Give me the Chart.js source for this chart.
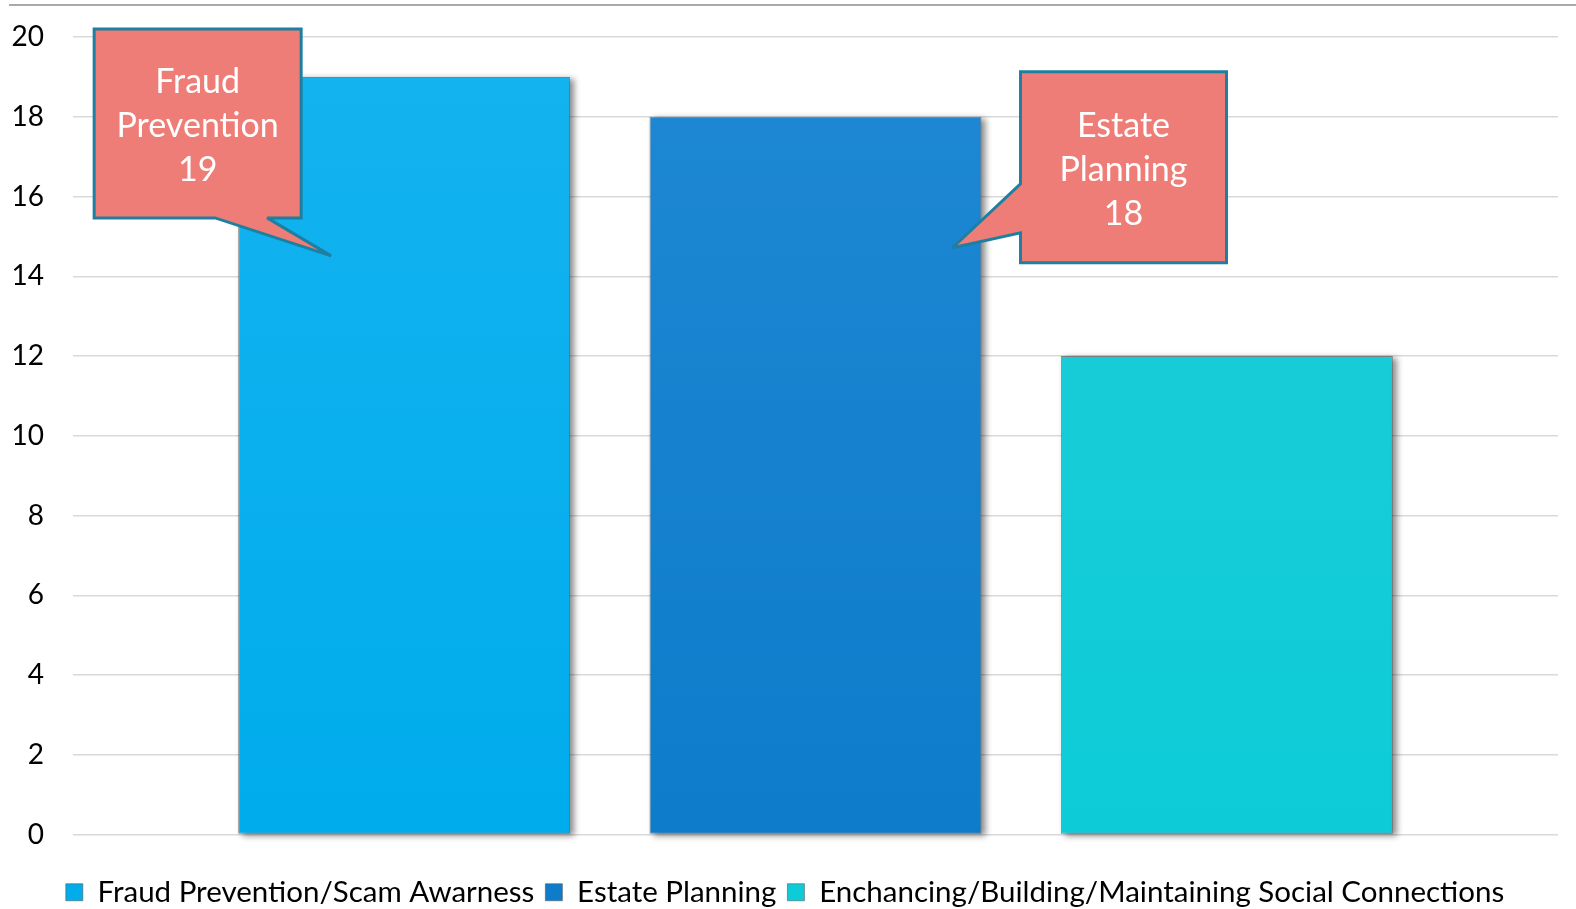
<!DOCTYPE html>
<html>
<head>
<meta charset="utf-8">
<title>Topics of interest</title>
<script src="https://cdn.jsdelivr.net/npm/chart.js@4.4.1/dist/chart.umd.min.js"></script>
<style>
    html, body { margin: 0; padding: 0; background: #ffffff; }
    #wrap { width: 1576px; height: 909px; }
</style>
</head>
<body>
<div id="wrap"><canvas id="chartTemas" width="1576" height="909"></canvas></div>
<script>
const temas = ["Fraud Prevention/Scam Awarness", "Estate Planning", "Enchancing/Building/Maintaining Social Connections"];
const votos = [19, 18, 12];
const coloresArriba = ["#14B3EF", "#1E88D3", "#1FCCD6"];
const coloresAbajo = ["#00ACEC", "#0E7CCB", "#0DCCD8"];
const yTicks = [0, 2, 4, 6, 8, 10, 12, 14, 16, 18, 20];

// globos de texto: índice de la barra, líneas de texto
const globos = [
    { idx: 0, lineas: ["Fraud", "Prevention", "19"] },
    { idx: 1, lineas: ["Estate", "Planning", "18"] }
];

const FUENTE = "Lato, 'Open Sans', sans-serif";

// degradado suave por barra
function degradado(ctx, i) {
    const area = ctx.chart.chartArea;
    if (!area) return coloresAbajo[i];
    const g = ctx.chart.ctx.createLinearGradient(0, area.top, 0, area.bottom);
    g.addColorStop(0, coloresArriba[i]);
    g.addColorStop(1, coloresAbajo[i]);
    return g;
}

// linea gris arriba del todo
const lineaSuperior = {
    id: "lineaSuperior",
    beforeDraw(chart) {
        const c = chart.ctx;
        c.save();
        c.strokeStyle = "#8c8c8c";
        c.lineWidth = 1.5;
        c.beginPath();
        c.moveTo(9, 5);
        c.lineTo(chart.width, 5);
        c.stroke();
        c.restore();
    }
};

// sombra difusa a la derecha de cada barra
const sombraBarras = {
    id: "sombraBarras",
    beforeDatasetsDraw(chart) {
        const c = chart.ctx;
        c.save();
        c.filter = "blur(3px)";
        c.fillStyle = "rgba(0,0,0,0.45)";
        chart.data.datasets.forEach((ds, i) => {
            const bar = chart.getDatasetMeta(i).data[0];
            const mitad = bar.width / 2;
            c.fillRect(bar.x - mitad + 4, bar.y + 2, bar.width, bar.base - bar.y);
        });
        c.restore();
    }
};

// dibuja los globos con su pico apuntando a la barra
const globosTexto = {
    id: "globosTexto",
    afterDatasetsDraw(chart) {
        const c = chart.ctx;
        globos.forEach(g => {
            const bar = chart.getDatasetMeta(g.idx).data[0];
            const bx = bar.x, by = bar.y;
            let caja, pico;
            if (g.idx === 0) {
                caja = { l: bx - 310, r: bx - 103, t: by - 48, b: by + 141 };
                pico = [[bx - 137, caja.b], [bx - 73, by + 179], [bx - 189, caja.b]];
            } else {
                caja = { l: bx + 205, r: bx + 411, t: by - 45, b: by + 146 };
                pico = [[caja.l, by + 116], [bx + 137, by + 131], [caja.l, by + 67]];
            }
            c.save();
            c.beginPath();
            c.moveTo(caja.l, caja.t);
            c.lineTo(caja.r, caja.t);
            c.lineTo(caja.r, caja.b);
            if (g.idx === 0) {
                c.lineTo(pico[0][0], pico[0][1]);
                c.lineTo(pico[1][0], pico[1][1]);
                c.lineTo(pico[2][0], pico[2][1]);
                c.lineTo(caja.l, caja.b);
            } else {
                c.lineTo(caja.l, caja.b);
                c.lineTo(pico[0][0], pico[0][1]);
                c.lineTo(pico[1][0], pico[1][1]);
                c.lineTo(pico[2][0], pico[2][1]);
            }
            c.closePath();
            c.fillStyle = "#EE7D77";
            c.fill();
            c.lineWidth = 3;
            c.lineJoin = "miter";
            c.miterLimit = 2; // que la punta no se alargue
            c.strokeStyle = "#1F7FA0";
            c.stroke();

            c.fillStyle = "#ffffff";
            c.font = "34px " + FUENTE;
            c.textAlign = "center";
            c.textBaseline = "middle";
            const cx = (caja.l + caja.r) / 2;
            const cy = (caja.t + caja.b) / 2 + 3;
            g.lineas.forEach((txt, k) => {
                c.fillText(txt, cx, cy + (k - 1) * 44);
            });
            c.restore();
        });
    }
};

const ctx = document.getElementById("chartTemas").getContext("2d");

new Chart(ctx, {
    type: "bar",
    data: {
        labels: [""],
        datasets: temas.map((t, i) => ({
            label: t,
            data: [votos[i]],
            backgroundColor: c => degradado(c, i),
            borderColor: "rgba(90,90,90,0.7)",
            borderWidth: 1,
            borderSkipped: false,
            barPercentage: 0.807,
            categoryPercentage: 0.831
        }))
    },
    plugins: [lineaSuperior, sombraBarras, globosTexto],
    options: {
        responsive: false,
        animation: false,
        layout: { padding: { top: 37, right: 18, left: 12, bottom: -8 } },
        plugins: {
            tooltip: { enabled: false },
            legend: {
                position: "bottom",
                labels: {
                    color: "#000000",
                    font: { family: FUENTE, size: 29.5 },
                    boxWidth: 17,
                    boxHeight: 17,
                    padding: 11,
                    generateLabels: chart => temas.map((t, i) => ({
                        text: t,
                        fillStyle: coloresAbajo[i],
                        strokeStyle: "rgba(90,90,90,0.6)",
                        lineWidth: 1,
                        datasetIndex: i,
                        hidden: false
                    }))
                }
            }
        },
        scales: {
            x: {
                grid: { display: false },
                border: { display: false },
                ticks: { display: false },
                afterFit: axis => { axis.height = 32; }
            },
            y: {
                min: 0,
                max: 20,
                afterBuildTicks: axis => { axis.ticks = yTicks.map(v => ({ value: v })); },
                afterFit: axis => {
                    axis.width = 61;
                    axis.paddingTop = 0;
                    axis.paddingBottom = 0;
                },
                grid: { color: "#d9d9d9", lineWidth: 1.5, drawTicks: false },
                border: { display: false },
                ticks: {
                    color: "#000000",
                    font: { family: FUENTE, size: 28 },
                    padding: 29
                }
            }
        }
    }
});
</script>
</body>
</html>
